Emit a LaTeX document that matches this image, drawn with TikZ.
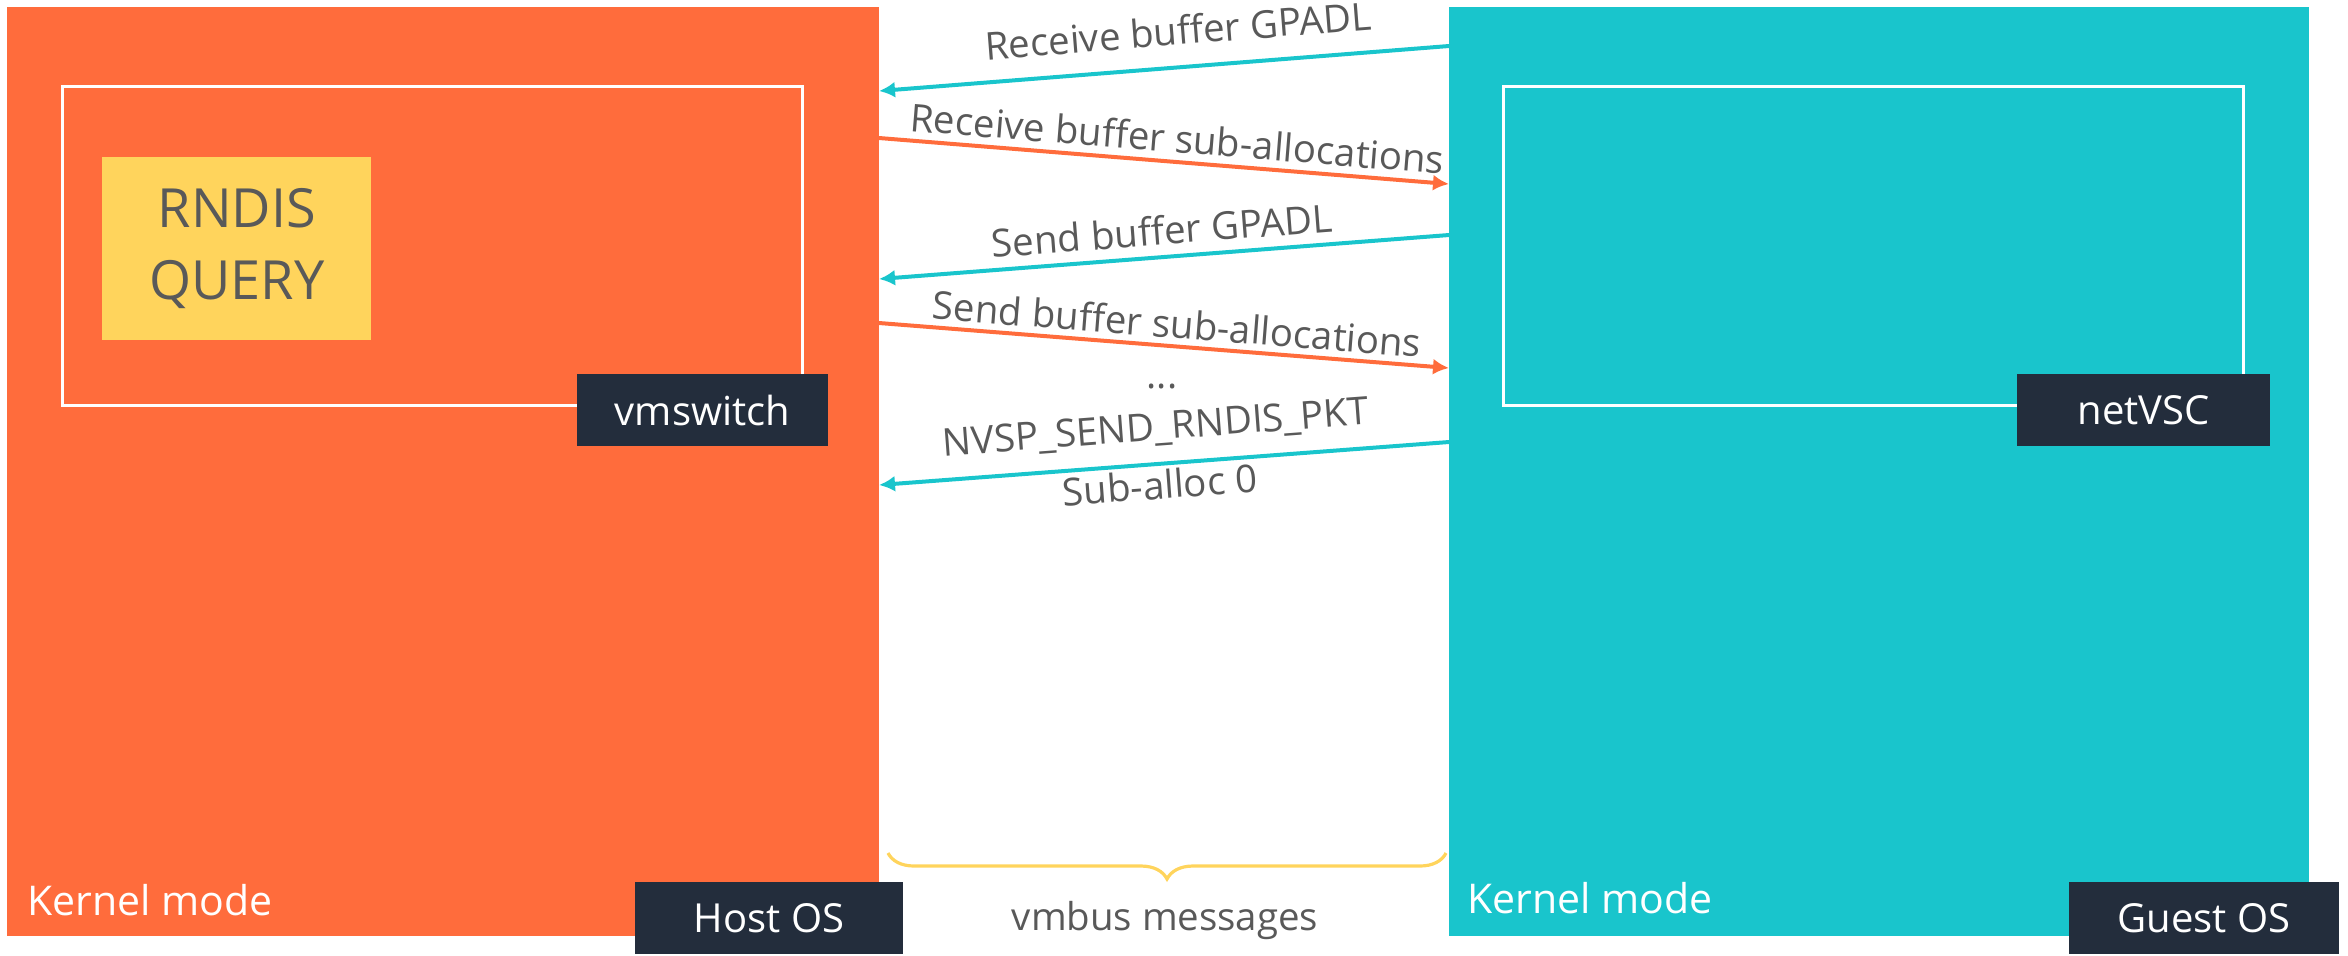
\documentclass[tikz,border=0pt]{standalone}
\usepackage{fontspec}
\setmainfont{Open Sans}
\usetikzlibrary{arrows.meta, decorations.pathreplacing}

\definecolor{hostorange}{HTML}{FF6C3C}
\definecolor{guestteal}{HTML}{19C5CC}
\definecolor{queryyellow}{HTML}{FFD45C}
\definecolor{tagnavy}{HTML}{232D3C}
\definecolor{msggray}{HTML}{595959}

\begin{document}
\begin{tikzpicture}[
  x=0.5pt, y=-0.5pt,
  osbox/.style={anchor=north west, inner sep=0pt, outer sep=0pt, minimum height=464.5pt},
  frame/.style={draw=white, line width=1.3pt, anchor=north west, inner sep=0pt, minimum width=370pt, minimum height=159.5pt},
  tag/.style={fill=tagnavy, text=white, inner sep=0pt, minimum height=36pt, font=\fontsize{20}{24}\selectfont},
  mode/.style={text=white, anchor=west, inner sep=0pt, font=\fontsize{20.5}{24}\selectfont},
  msg/.style={text=msggray, inner sep=1pt, font=\fontsize{19.2}{24}\selectfont},
  toguest/.style={draw=hostorange, line width=2pt, -{Latex[length=8pt, width=8pt]}},
  tohost/.style={draw=guestteal, line width=2pt, -{Latex[length=8pt, width=8pt]}},
  busbrace/.style={draw=queryyellow, line width=1.6pt, decorate, decoration={brace, mirror, amplitude=13pt}}
]
\useasboundingbox (0,0) rectangle (2348,955);

\node[osbox, fill=hostorange, minimum width=436pt] (host) at (7,7) {};
\node[osbox, fill=guestteal, minimum width=430pt] (guest) at (1449,7) {};

\node[frame] (hostframe) at (61,85) {};
\node[frame] (guestframe) at (1502,85) {};

\node[fill=queryyellow, text=msggray, anchor=north west, minimum width=134.5pt, minimum height=91.5pt, align=center, font=\fontsize{27}{36}\selectfont] (query) at (102,157) {RNDIS\\QUERY};

\node[tag, minimum width=125.5pt] (vmswitch) at (702.5,410) {vmswitch};
\node[tag, minimum width=126.5pt] (netvsc) at (2143.5,410) {netVSC};
\node[tag, minimum width=134pt] (hostos) at (769,918) {Host OS};
\node[tag, minimum width=135pt] (guestos) at (2204,918) {Guest OS};

\node[mode] (hostmode) at (27,900) {Kernel mode};
\node[mode] (guestmode) at (1467,898) {Kernel mode};

\coordinate (g1) at (1449,46);  \coordinate (h1) at (879,91);
\coordinate (h2) at (879,138);  \coordinate (g2) at (1449,184);
\coordinate (g3) at (1449,235); \coordinate (h3) at (879,279);
\coordinate (h4) at (879,323);  \coordinate (g4) at (1449,368);
\coordinate (g5) at (1449,442); \coordinate (h5) at (879,485);

\draw[tohost] (g1) -- node[msg, sloped, above=9pt, pos=0.47] (rxgpadl) {Receive buffer GPADL} (h1);
\draw[toguest] (h2) -- node[msg, sloped, above=2.5pt, pos=0.52] (rxsub) {Receive buffer sub-allocations} (g2);
\draw[tohost] (g3) -- node[msg, sloped, above=4pt, pos=0.5] (txgpadl) {Send buffer GPADL} (h3);
\draw[toguest] (h4) -- node[msg, sloped, above=2pt, pos=0.52] (txsub) {Send buffer sub-allocations} (g4);
\node[msg, text height=4pt, text depth=0pt] (more) at (1162,384) {...};
\draw[tohost] (g5) -- node[msg, sloped, above=7pt, pos=0.51] (rndispkt) {NVSP\_SEND\_RNDIS\_PKT}
  node[msg, sloped, below=1pt, pos=0.51] (suballoc) {Sub-alloc 0} (h5);

\coordinate (busl) at (888,853);
\coordinate (busr) at (1446,853);
\draw[busbrace] (busl) -- (busr);
\node[msg] (vmbus) at (1165,921) {vmbus messages};
\end{tikzpicture}
\end{document}
